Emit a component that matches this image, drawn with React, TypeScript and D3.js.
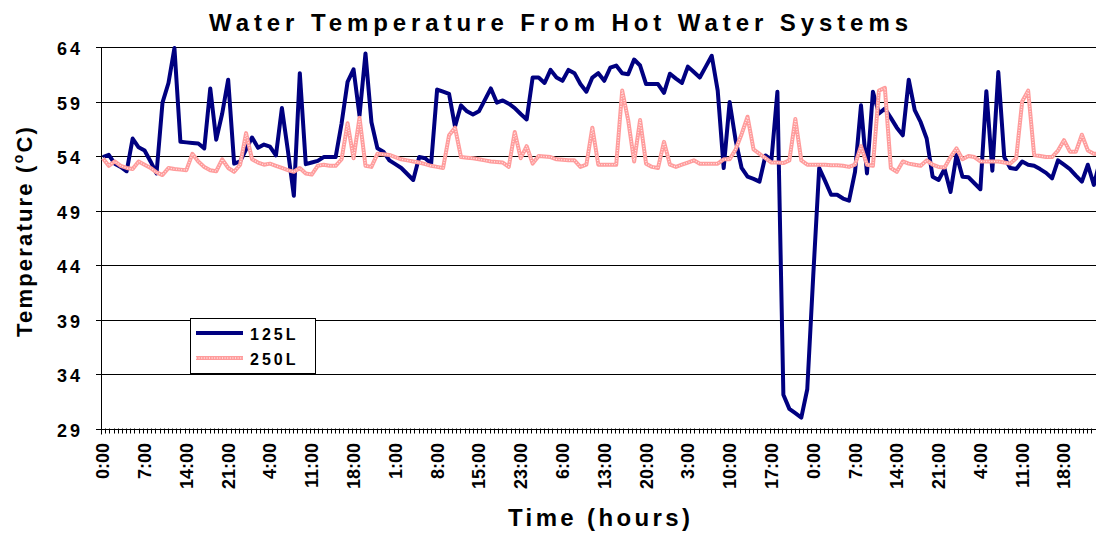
import React from 'react';
import * as d3 from 'd3';

const W = 1096;
const H = 533;

// Hourly categories; a label every 7th category
const tickLabels = ["0:00","7:00","14:00","21:00","4:00","11:00","18:00","1:00","8:00","15:00","23:00","6:00","13:00","20:00","3:00","10:00","17:00","0:00","7:00","14:00","21:00","4:00","11:00","18:00"];
const labelEvery = 7;
const yTicks = [29, 34, 39, 44, 49, 54, 59, 64];
const seriesNames = ["125L", "250L"];

const temp125 = [
  53.9,54.1,53.3,53.0,52.6,55.6,54.8,54.5,53.5,52.4,
  58.9,60.7,63.9,55.3,55.25,55.2,55.15,54.7,60.2,55.5,
  57.9,61.0,53.3,53.5,54.6,55.7,54.75,55.05,54.85,54.05,
  58.4,54.5,50.35,61.6,53.25,53.4,53.55,53.9,53.9,53.9,
  57.0,60.8,61.95,57.7,63.4,57.1,54.7,54.4,53.6,53.25,
  52.9,52.35,51.8,53.9,53.8,53.3,60.1,59.9,59.7,56.7,
  58.65,58.1,57.8,58.1,59.15,60.2,58.9,59.1,58.8,58.4,
  57.85,57.35,61.2,61.2,60.7,61.9,61.2,60.9,61.9,61.6,
  60.6,59.9,61.2,61.6,60.9,62.1,62.3,61.6,61.5,62.85,
  62.3,60.6,60.6,60.6,59.8,61.55,61.1,60.7,62.2,61.7,
  61.2,62.2,63.2,60.0,52.9,58.95,55.45,52.9,52.1,51.9,
  51.65,54.05,53.65,59.9,32.1,30.8,30.4,30.0,32.6,43.0,
  52.9,51.7,50.45,50.45,50.1,49.9,52.55,58.65,52.4,59.9,
  57.9,58.35,57.5,56.6,55.9,61.0,58.2,57.1,55.6,52.1,
  51.8,52.8,50.7,54.1,52.1,52.05,51.5,50.95,59.95,52.65,
  61.7,53.9,52.9,52.8,53.5,53.2,53.1,52.8,52.45,51.95,
  53.6,53.2,52.8,52.2,51.65,53.2,51.35,53.5
];

const temp250 = [
  53.8,53.1,53.5,53.1,52.9,52.8,53.5,53.2,52.9,52.5,
  52.25,52.9,52.8,52.75,52.7,54.2,53.5,53.0,52.7,52.6,
  53.7,52.9,52.55,53.2,56.1,53.7,53.4,53.2,53.3,53.1,
  52.9,52.7,52.55,52.9,52.4,52.3,53.1,53.2,53.1,53.1,
  53.7,57.0,53.8,57.5,53.1,53.0,54.2,54.15,54.1,53.9,
  53.7,53.6,53.5,53.4,53.25,53.1,53.0,52.9,55.9,56.6,
  53.9,53.85,53.8,53.7,53.6,53.5,53.45,53.4,53.0,56.2,
  53.8,54.9,53.3,54.0,53.95,53.9,53.7,53.65,53.6,53.6,
  53.0,53.2,56.6,53.2,53.2,53.2,53.2,60.0,57.3,53.5,
  57.3,53.3,53.0,52.9,55.3,53.2,53.0,53.2,53.4,53.6,
  53.3,53.3,53.3,53.3,53.7,53.7,54.6,56.0,57.6,54.6,
  54.2,53.8,53.4,53.4,53.35,53.6,57.4,53.6,53.2,53.2,
  53.2,53.2,53.15,53.15,53.1,53.0,53.2,54.9,53.2,53.1,
  60.0,60.25,52.9,52.55,53.5,53.3,53.2,53.1,53.6,53.2,
  53.0,52.95,53.9,54.7,53.7,54.0,53.9,53.5,53.5,53.5,
  53.5,53.4,53.3,53.8,59.0,60.0,54.1,54.0,53.9,53.9,
  54.5,55.45,54.4,54.4,55.95,54.5,54.2,54.2
];

const FONT = "'Liberation Sans', Arial, Helvetica, sans-serif";
const NAVY = "#000080";
const PINK = "#FF9C9C";

export default function App() {
  const n = temp125.length;
  const step = 5.97;
  const x0 = 102.8;
  const x = d3.scaleLinear().domain([0, n - 1]).range([x0, x0 + (n - 1) * step]);
  const y = d3.scaleLinear().domain([29, 64]).range([428.5, 47]);
  const axisX = 101;
  const right = W;
  const bottom = y(29);

  const line = d3.line<number>().x((_, i) => x(i)).y(d => y(d));
  const path125 = line(temp125) || '';
  const path250 = line(temp250) || '';

  const minorTicks = d3.range(-0.3, n + 1, 0.7).map(t => x(t)).filter(px => px > axisX + 1 && px < right);

  const pinkLine = (d: string, key: string) => (
    <g key={key}>
      <path d={d} fill="none" stroke={PINK} strokeWidth={4} strokeLinejoin="round" />
      <path d={d} fill="none" stroke="#ffffff" strokeWidth={1.3} strokeDasharray="1 1.6" strokeOpacity={0.75} strokeLinejoin="round" />
    </g>
  );

  return (
    <svg width={W} height={H} style={{ position: 'absolute', left: 0, top: 0, background: '#fff' }} fontFamily={FONT}>
      <rect x={0} y={0} width={W} height={H} fill="#fff" />
      {/* gridlines */}
      {yTicks.map(v => (
        <line key={'g' + v} x1={axisX - 5} x2={right} y1={Math.round(y(v)) + 0.5} y2={Math.round(y(v)) + 0.5}
          stroke="#000" strokeWidth={1} />
      ))}
      {/* y axis */}
      <line x1={axisX + 0.5} x2={axisX + 0.5} y1={y(64)} y2={bottom + 6} stroke="#000" strokeWidth={1} />
      {/* x axis minor ticks */}
      {minorTicks.map((px, i) => (
        <line key={'t' + i} x1={Math.round(px) + 0.5} x2={Math.round(px) + 0.5} y1={bottom} y2={bottom + 5} stroke="#000" strokeWidth={1} />
      ))}
      {/* y tick labels */}
      {yTicks.map(v => (
        <text key={'yl' + v} x={83} y={y(v) + 8} textAnchor="end" fontSize={18} fontWeight="bold" letterSpacing={3} fill="#000">{v}</text>
      ))}
      {/* x tick labels */}
      {tickLabels.map((lab, k) => (
        <text key={'xl' + k} transform={`translate(${x(k * labelEvery)},443) rotate(-90)`} dy="0.36em" textAnchor="end"
          fontSize={18} fontWeight="bold" fill="#000">{lab}</text>
      ))}
      {/* series */}
      <path d={path125} fill="none" stroke={NAVY} strokeWidth={4} strokeLinejoin="round" />
      {pinkLine(path250, 'p250')}
      {/* title */}
      <text x={558.5} y={30.5} textAnchor="middle" fontSize={24} fontWeight="bold" textLength={699} lengthAdjust="spacing" fill="#000">Water Temperature From Hot Water Systems</text>
      {/* axis titles */}
      <text x={599} y={526} textAnchor="middle" fontSize={24} fontWeight="bold" textLength={182} lengthAdjust="spacing" fill="#000">Time (hours)</text>
      <text transform="translate(32,231) rotate(-90)" textAnchor="middle" fontSize={22} fontWeight="bold" letterSpacing={2.2} fill="#000">
        Temperature (<tspan fontSize={14} dy={-9}>o</tspan><tspan dy={9}>C)</tspan>
      </text>
      {/* legend */}
      <rect x={190.5} y={318.5} width={125} height={55} fill="#fff" stroke="#000" strokeWidth={1} />
      <line x1={196} x2={243} y1={333} y2={333} stroke={NAVY} strokeWidth={4} />
      {pinkLine('M196,358L243,358', 'lp')}
      <text x={250} y={340} fontSize={16} fontWeight="bold" letterSpacing={3} fill="#000">{seriesNames[0]}</text>
      <text x={250} y={365} fontSize={16} fontWeight="bold" letterSpacing={3} fill="#000">{seriesNames[1]}</text>
    </svg>
  );
}
